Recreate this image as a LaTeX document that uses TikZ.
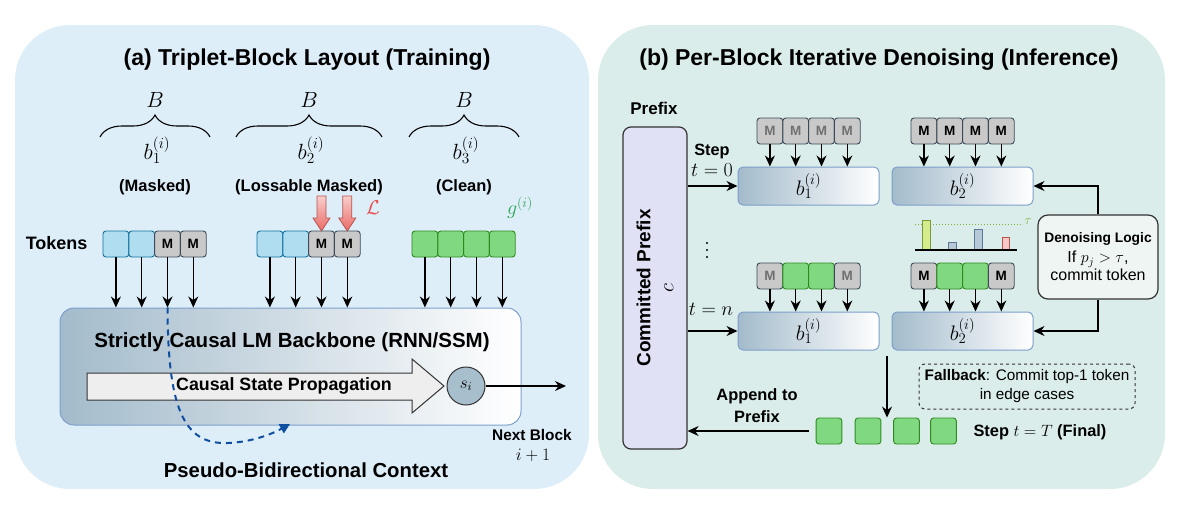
\RequirePackage{fix-cm}
\documentclass[tikz,border=0pt]{standalone}
\usepackage{fontspec}
\setmainfont{Liberation Sans}
\usetikzlibrary{arrows.meta,decorations.pathreplacing,calc}
\definecolor{panelA}{HTML}{DDEEF9}
\definecolor{panelB}{HTML}{DAEDEA}
\definecolor{tokBlue}{HTML}{B1DDF0}
\definecolor{tokBlueD}{HTML}{10739E}
\definecolor{tokGray}{HTML}{C9C9C9}
\definecolor{tokGrayD}{HTML}{3C4A58}
\definecolor{tokGreen}{HTML}{80D880}
\definecolor{tokGreenD}{HTML}{2F8A1E}
\definecolor{bbLeft}{HTML}{A3BBCB}
\definecolor{bbBorder}{HTML}{7E9FCB}
\definecolor{dashBlue}{HTML}{0F4FA0}
\definecolor{lossRed}{HTML}{EA4A4A}
\definecolor{gGreen}{HTML}{2EA553}
\definecolor{prefFill}{HTML}{E1E1F5}
\definecolor{logicFill}{HTML}{EEF5F2}
\definecolor{arrFill}{HTML}{EEEEEE}
\definecolor{darkLine}{HTML}{333333}
\definecolor{siFill}{HTML}{A7BFCD}
\definecolor{redTop}{HTML}{F8CECC}
\definecolor{redBot}{HTML}{EA6B66}
\definecolor{redLine}{HTML}{B85450}
\definecolor{barGreen}{HTML}{D4EC8C}
\definecolor{barGreenD}{HTML}{7A9A3A}
\definecolor{barBlue}{HTML}{B7C9D8}
\definecolor{barBlueD}{HTML}{5D7A95}
\definecolor{barPink}{HTML}{F8C8C8}
\definecolor{tauGreen}{HTML}{7DB83A}
\definecolor{mGray}{HTML}{707070}
\begin{document}
\begin{tikzpicture}[x=1pt,y=-1pt,
  arr/.style={-{Stealth[length=11pt,width=10pt]}, line width=1.4pt},
  tok/.style={draw, rounded corners=3pt, minimum width=25.8pt, minimum height=26pt, inner sep=0pt, line width=0.9pt, font=\bfseries\fontsize{13.5}{14}\selectfont},
  tokblue/.style={tok, fill=tokBlue, draw=tokBlueD},
  tokgray/.style={tok, fill=tokGray, draw=tokGrayD},
  tokgreen/.style={tok, fill=tokGreen, draw=tokGreenD},
  blockbox/.style={draw=bbBorder, line width=1pt, left color=bbLeft, right color=white, rounded corners=5pt, inner sep=0pt},
  ttl/.style={font=\bfseries\fontsize{23}{26}\selectfont},
  lbl/.style={font=\bfseries\fontsize{16.5}{19}\selectfont},
  mth/.style={font=\fontsize{22}{24}\selectfont},
  bracestyle/.style={decorate, decoration={brace, amplitude=22pt}, line width=1.1pt},
  redarrow/.style={top color=redTop, bottom color=redBot, draw=redLine, line width=0.8pt},
]
\useasboundingbox (0,0) rectangle (1183,506);
% panels
\path[fill=panelA, rounded corners=55pt] (15,25) rectangle (589,489);
\path[fill=panelB, rounded corners=55pt] (598,25) rectangle (1165,489);

% ================= Panel (a)
\node[ttl] (ta) at (307,60) {(a) Triplet-Block Layout (Training)};

\draw[bracestyle] (100,137) -- (210,137);
\draw[bracestyle] (236,137) -- (382,137);
\draw[bracestyle] (409,137) -- (519,137);
\node[mth] (B1) at (155,100) {$B$};
\node[mth] (B2) at (309,100) {$B$};
\node[mth] (B3) at (464,100) {$B$};
\node[mth] (bl1) at (157,150) {$b_1^{(i)}$};
\node[mth] (bl2) at (311,150) {$b_2^{(i)}$};
\node[mth] (bl3) at (466,150) {$b_3^{(i)}$};
\node[lbl] (m1) at (155,187) {(Masked)};
\node[lbl] (m2) at (309,187) {(Lossable Masked)};
\node[lbl] (m3) at (464,187) {(Clean)};

\node[font=\bfseries\fontsize{18}{20}\selectfont, anchor=east] (tokl) at (91,243) {Tokens};

\node[tokblue] (ga1) at (115.9,244) {};
\node[tokblue] (ga2) at (141.7,244) {};
\node[tokgray] (ga3) at (167.5,244) {M};
\node[tokgray] (ga4) at (193.3,244) {M};
\node[tokblue] (gb1) at (269.9,244) {};
\node[tokblue] (gb2) at (295.7,244) {};
\node[tokgray] (gb3) at (321.5,244) {M};
\node[tokgray] (gb4) at (347.3,244) {M};
\node[tokgreen] (gc1) at (424.9,244) {};
\node[tokgreen] (gc2) at (450.7,244) {};
\node[tokgreen] (gc3) at (476.5,244) {};
\node[tokgreen] (gc4) at (502.3,244) {};

% red loss arrows
\foreach \cx in {321.5,347.3}{
  \path[redarrow] (\cx-4.5,196) -- (\cx+4.5,196) -- (\cx+4.5,218) -- (\cx+8.5,218) -- (\cx,231) -- (\cx-8.5,218) -- (\cx-4.5,218) -- cycle;
}
\node[text=lossRed, font=\fontsize{20}{22}\selectfont] (Ll) at (373,208) {$\mathcal{L}$};
\node[text=gGreen, font=\fontsize{20}{22}\selectfont] (gl) at (520,208) {$g^{(i)}$};

% backbone
\node[blockbox, rounded corners=14pt, minimum width=461pt, minimum height=117pt] (bb) at (290.5,366.5) {};
\foreach \n in {ga1,ga2,ga3,ga4,gb1,gb2,gb3,gb4,gc1,gc2,gc3,gc4}
  \draw[arr] (\n.south) -- (\n.south |- bb.north);
\node[font=\bfseries\fontsize{20.5}{22}\selectfont] (bbt) at (292,342) {Strictly Causal LM Backbone (RNN/SSM)};
\path[fill=arrFill, draw=darkLine, line width=1pt] (87,373) -- (412,373) -- (412,359) -- (444,386) -- (412,413) -- (412,400) -- (87,400) -- cycle;
\node[font=\bfseries\fontsize{17.8}{20}\selectfont] (csp) at (284,386) {Causal State Propagation};
\node[circle, draw=darkLine, fill=siFill, line width=1pt, minimum size=38pt, inner sep=0pt, font=\fontsize{17}{19}\selectfont] (si) at (466,386) {$s_i$};
\coordinate (nbend) at (566,386);
\draw[arr] (si.east) -- (nbend);
\node[font=\bfseries\fontsize{15.4}{17}\selectfont] (nbl) at (532,435) {Next Block};
\node[font=\fontsize{17.5}{19}\selectfont] (nbi) at (533,455) {$i+1$};

% dashed pseudo-bidirectional curve
\draw[dashBlue, line width=2pt, dash pattern=on 6pt off 5pt, -{Triangle[length=10pt,width=10pt]}]
  (ga3.south |- bb.north) .. controls (168,405) and (182,445) .. (228,443)
  .. controls (252,442) and (272,434) .. (290,424);
\node[font=\bfseries\fontsize{20.3}{22}\selectfont] (pbc) at (306,470) {Pseudo-Bidirectional Context};

% ================= Panel (b)
\node[ttl] (tb) at (879,60) {(b) Per-Block Iterative Denoising (Inference)};
\node[font=\bfseries\fontsize{17}{19}\selectfont] (prl) at (654,108) {Prefix};
\node[draw=darkLine, fill=prefFill, line width=1.2pt, rounded corners=8pt, minimum width=64pt, minimum height=322pt] (pref) at (655,288) {};
\node[rotate=90, align=center, font=\bfseries\fontsize{19}{23}\selectfont] (preft) at (pref.center) {Committed Prefix\\ \mdseries\fontsize{21}{23}\selectfont$c$};

\node[font=\bfseries\fontsize{16.3}{18}\selectfont] (stepl) at (712,151) {Step};
\node[font=\fontsize{20}{22}\selectfont] (t0) at (712,170) {$t=0$};
\fill (707,243) circle (1.2pt) (707,250) circle (1.2pt) (707,257) circle (1.2pt);
\node[font=\fontsize{20}{22}\selectfont] (tn) at (711,309) {$t=n$};

\node[blockbox, minimum width=141pt, minimum height=38pt] (b1t) at (808.5,186) {\fontsize{21}{23}\selectfont$b_1^{(i)}$};
\node[blockbox, minimum width=141pt, minimum height=38pt] (b2t) at (962.5,186) {\fontsize{21}{23}\selectfont$b_2^{(i)}$};
\node[blockbox, minimum width=141pt, minimum height=38pt] (b1b) at (808.5,331) {\fontsize{21}{23}\selectfont$b_1^{(i)}$};
\node[blockbox, minimum width=141pt, minimum height=38pt] (b2b) at (962.5,331) {\fontsize{21}{23}\selectfont$b_2^{(i)}$};

\draw[arr] (pref.east |- b1t.west) -- (b1t.west);
\draw[arr] (pref.east |- b1b.west) -- (b1b.west);

% top tokens
\node[tokgray, text=mGray] (pa1) at (769.9,131) {M};
\node[tokgray, text=mGray] (pa2) at (795.7,131) {M};
\node[tokgray, text=mGray] (pa3) at (821.5,131) {M};
\node[tokgray, text=mGray] (pa4) at (847.3,131) {M};
\node[tokgray] (pb1) at (923.9,131) {M};
\node[tokgray] (pb2) at (949.7,131) {M};
\node[tokgray] (pb3) at (975.5,131) {M};
\node[tokgray] (pb4) at (1001.3,131) {M};
\foreach \n in {pa1,pa2,pa3,pa4} \draw[arr] (\n.south) -- (\n.south |- b1t.north);
\foreach \n in {pb1,pb2,pb3,pb4} \draw[arr] (\n.south) -- (\n.south |- b2t.north);

% bottom tokens
\node[tokgray, text=mGray] (qa1) at (769.9,276) {M};
\node[tokgreen] (qa2) at (795.7,276) {};
\node[tokgreen] (qa3) at (821.5,276) {};
\node[tokgray, text=mGray] (qa4) at (847.3,276) {M};
\node[tokgray] (qb1) at (923.9,276) {M};
\node[tokgreen] (qb2) at (949.7,276) {};
\node[tokgreen] (qb3) at (975.5,276) {};
\node[tokgray] (qb4) at (1001.3,276) {M};
\foreach \n in {qa1,qa2,qa3,qa4} \draw[arr] (\n.south) -- (\n.south |- b1b.north);
\foreach \n in {qb1,qb2,qb3,qb4} \draw[arr] (\n.south) -- (\n.south |- b2b.north);

% bar chart
\draw[tauGreen, line width=1pt, dotted] (915,224) -- (1023,224);
\node[text=tauGreen, font=\fontsize{13}{14}\selectfont] (taul) at (1028,222) {$\tau$};
\draw[fill=barGreen, draw=barGreenD, line width=0.8pt] (922,220) rectangle (930,250);
\draw[fill=barBlue, draw=barBlueD, line width=0.8pt] (948,242) rectangle (956,250);
\draw[fill=barBlue, draw=barBlueD, line width=0.8pt] (974,229) rectangle (982,250);
\draw[fill=barPink, draw=redLine, line width=0.8pt] (1002,237) rectangle (1009,250);
\draw[line width=1.2pt] (915,250) -- (1017,250);

% denoising logic
\node[draw=darkLine, fill=logicFill, line width=1.2pt, rounded corners=10pt, minimum width=120pt, minimum height=84pt, inner sep=2pt, align=center, font=\fontsize{16}{20}\selectfont] (dl) at (1098,257)
  {{\bfseries\fontsize{13.8}{20}\selectfont Denoising Logic}\\ If $p_j>\tau$,\\[-2pt] commit token};
\draw[arr] (dl.north) |- (b2t.east);
\draw[arr] (dl.south) |- (b2b.east);

% final step
\node[tokgreen] (f1) at (829,431) {};
\node[tokgreen] (f2) at (868,431) {};
\node[tokgreen] (f3) at (906.5,431) {};
\node[tokgreen] (f4) at (943.5,431) {};
\coordinate (dstart) at (887,356);
\draw[arr] (dstart) -- (dstart |- f2.north) ;
\node[draw=darkLine, dashed, line width=1pt, rounded corners=6pt, minimum width=216pt, minimum height=45pt, inner sep=1pt, align=center, font=\fontsize{15.3}{19}\selectfont] (fb) at (1027,386.5)
  {\textbf{Fallback}: Commit top-1 token\\ in edge cases};
\node[anchor=west, font=\bfseries\fontsize{16.4}{18}\selectfont] (stT) at (970,432) {Step $t=T$ (Final)};
\draw[arr] ([xshift=-7pt]f1.west) -- (pref.east |- f1.west);
\node[align=center, font=\bfseries\fontsize{16.4}{22}\selectfont] (apl) at (757,406) {Append to\\ Prefix};
\end{tikzpicture}
\end{document}
